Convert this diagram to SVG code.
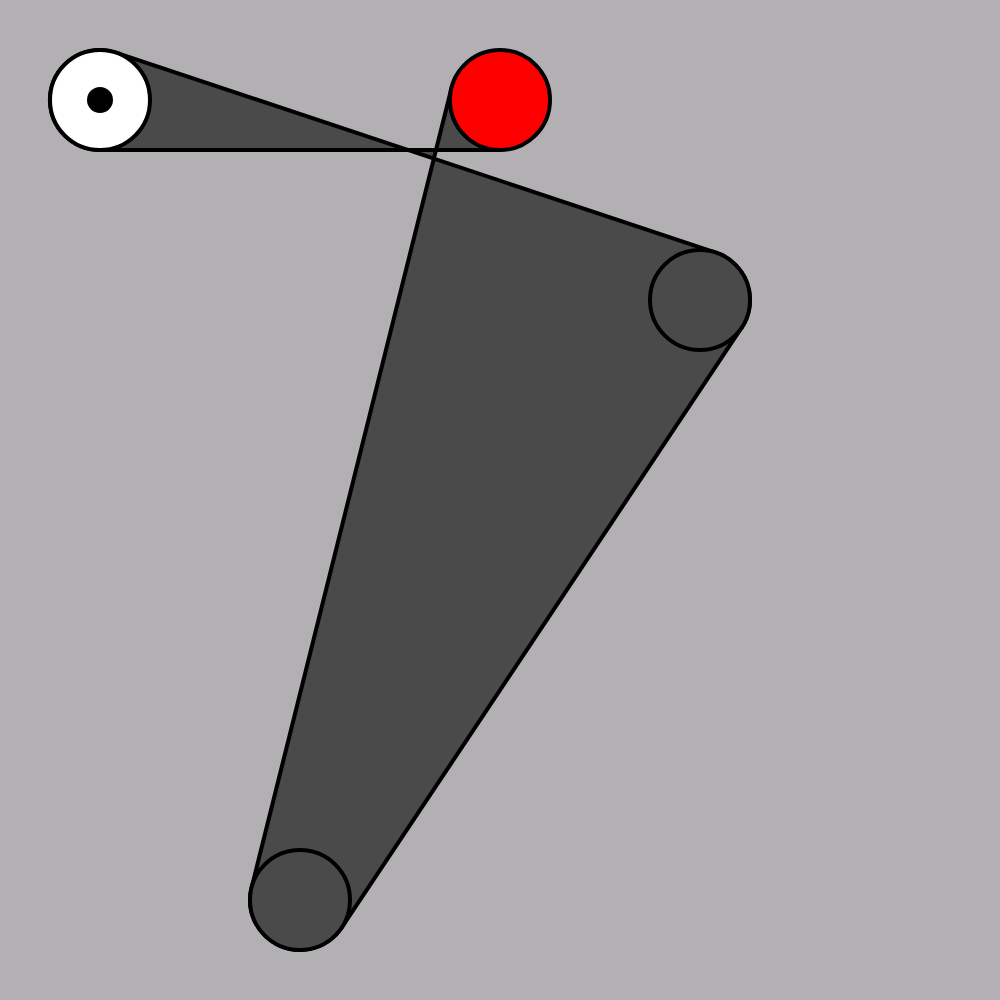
<svg xmlns="http://www.w3.org/2000/svg" width="1000" height="1000" viewBox="0 0 1000 1000">
<style>
.belt{fill:#494a49;stroke:#000;stroke-width:4;stroke-linejoin:round}
.pulley{stroke:#000;stroke-width:4}
</style>
<rect width="1000" height="1000" fill="#b2b0b3"/>
<g id="connectors">
<path class="belt" d="M115.8,52.6 L715.8,252.6 A50,50 0 0 1 741.6,327.7 L341.6,927.7 A50,50 0 0 1 251.5,887.9 L451.5,87.9 A50,50 0 0 0 500,150 L100,150 A50,50 0 1 1 115.8,52.6 Z"/>
</g>
<g id="pulley-drive">
<circle class="pulley" cx="100" cy="100" r="50" fill="#fff"/>
<circle cx="100" cy="100" r="13" fill="#000"/>
</g>
<g id="pulley-red">
<circle class="pulley" cx="500" cy="100" r="50" fill="#f00"/>
</g>
<g id="pulley-right">
<circle class="pulley" cx="700" cy="300" r="50" fill="#494a49"/>
</g>
<g id="pulley-bottom">
<circle class="pulley" cx="300" cy="900" r="50" fill="#494a49"/>
</g>
</svg>
